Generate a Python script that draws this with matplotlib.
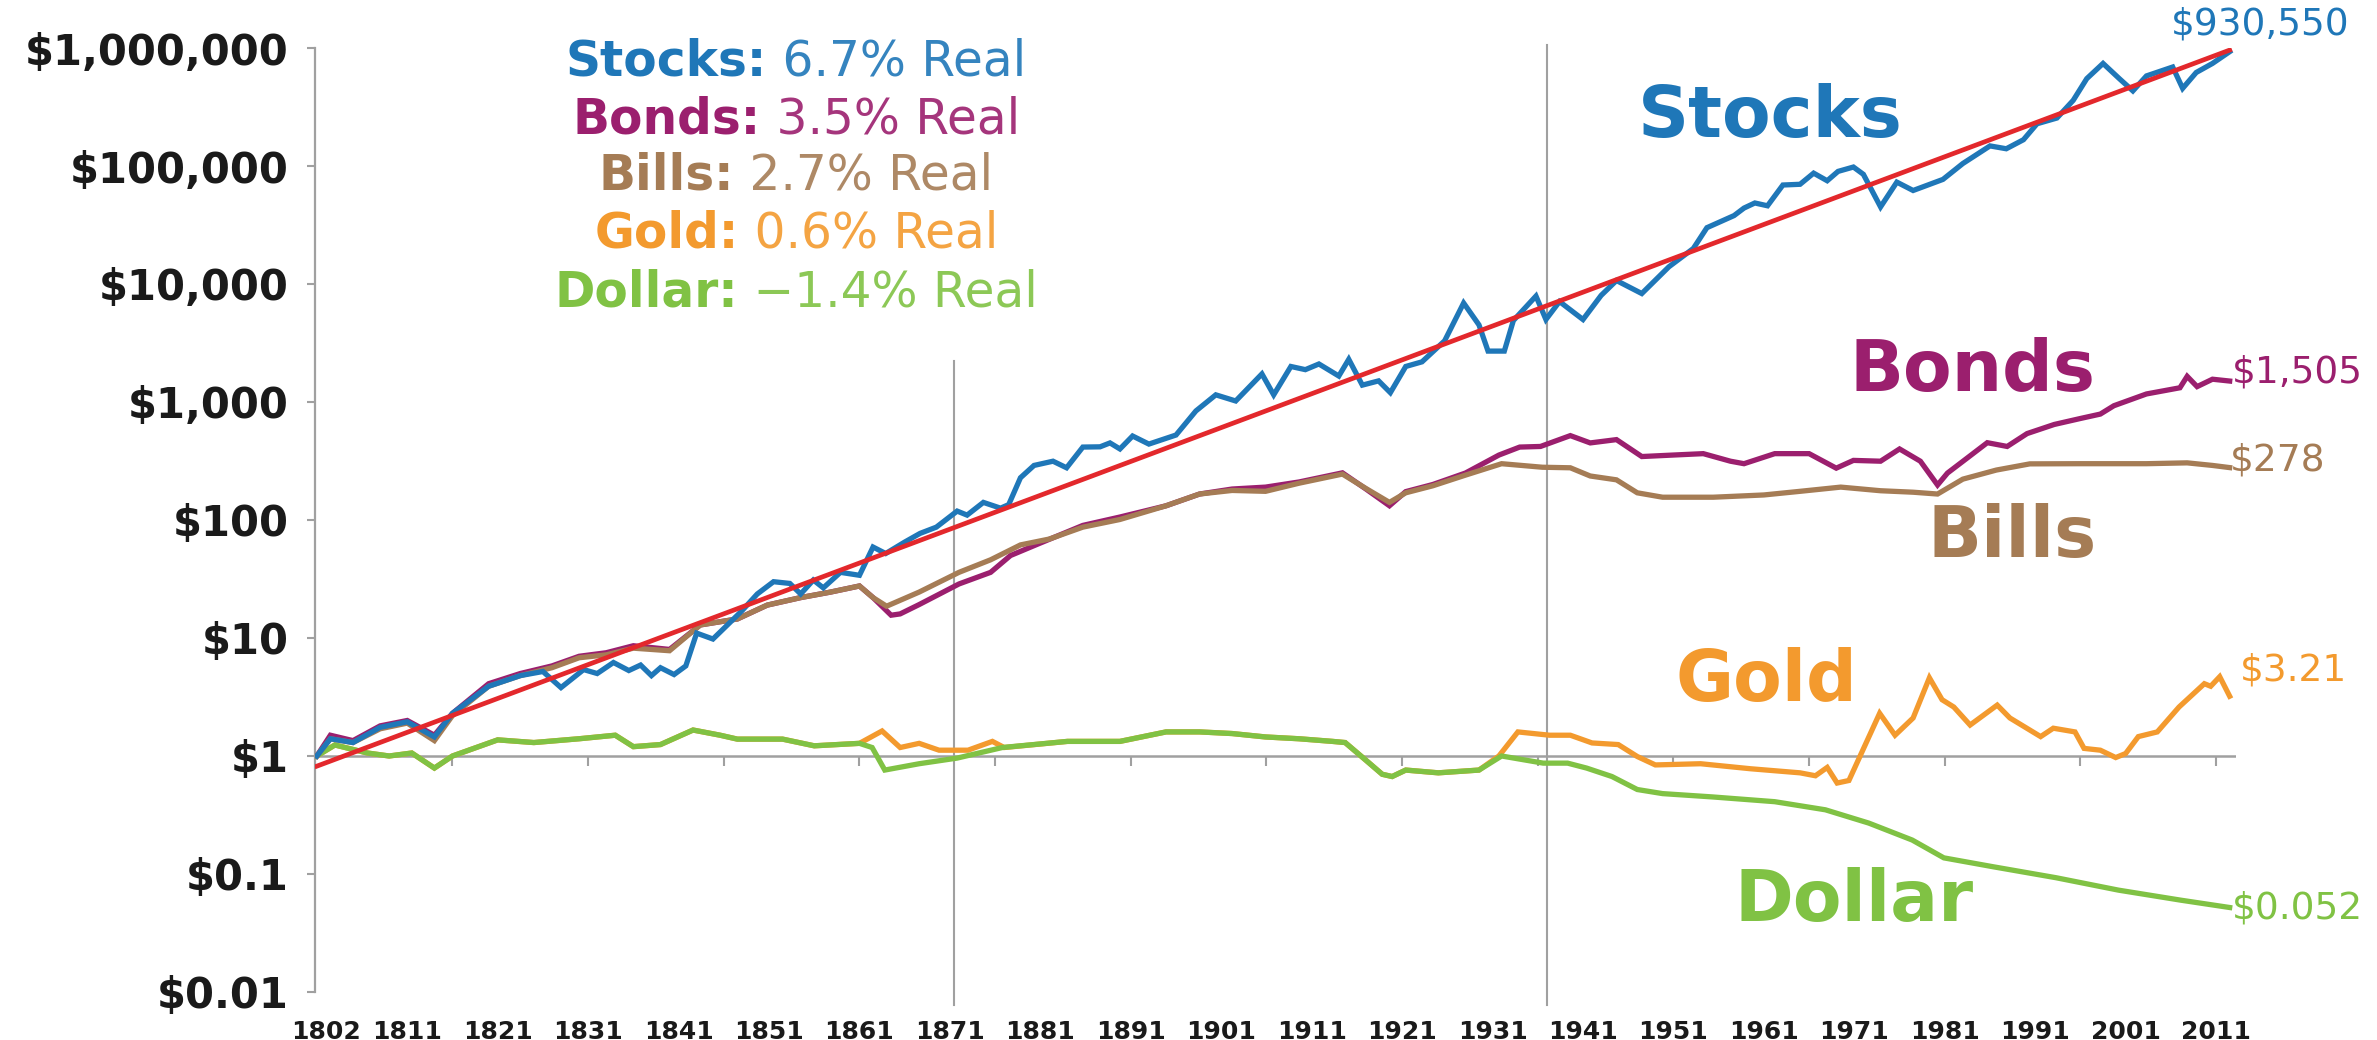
import numpy as np
import matplotlib
matplotlib.use("Agg")
import matplotlib.pyplot as plt
from matplotlib.markers import TICKDOWN

# -------------------------
# Data (real total return of $1 invested in 1801)
# -------------------------
stock_years = [1801, 1802.5, 1805, 1808, 1811, 1814, 1816, 1820, 1823.5, 1826, 1828, 1830.5, 1832,
               1833.8, 1835.5, 1836.8, 1838, 1839, 1840.5, 1841.8, 1843, 1844.8, 1846.4, 1848, 1849.7,
               1851.5, 1853.3, 1854.5, 1855.9, 1857, 1858.9, 1861, 1862.5, 1863.9, 1866, 1867.7, 1869.5,
               1871.8, 1872.9, 1874.7, 1876.6, 1877.5, 1878.8, 1880.3, 1882.4, 1883.9, 1885.7, 1887.6,
               1888.7, 1889.8, 1891.2, 1893, 1896, 1898.2, 1900.4, 1902.6, 1905.5, 1906.8, 1908.7,
               1910.3, 1911.8, 1914, 1915.1, 1916.6, 1918.4, 1919.7, 1921.4, 1923.2, 1925.7, 1927.8,
               1929.5, 1930.5, 1932.3, 1933.3, 1935.8, 1936.9, 1938.4, 1941, 1943, 1944.7, 1947.5,
               1950.5, 1953.2, 1954.7, 1957.7, 1958.8, 1960, 1961.4, 1963.1, 1965, 1966.5, 1968,
               1969.2, 1970.9, 1972, 1973.9, 1975.7, 1977.5, 1980.8, 1983, 1986, 1987.8, 1989.7,
               1991.2, 1993.4, 1995.2, 1996.7, 1998.5, 2000.3, 2001.8, 2003.3, 2006.2, 2007.3,
               2008.8, 2010.6, 2012.5]
stock_vals = [1.0, 1.4, 1.3, 1.75, 1.95, 1.45, 2.3, 3.9, 4.8, 5.2, 3.8, 5.4, 5.0,
              6.2, 5.3, 5.9, 4.8, 5.6, 4.9, 5.8, 11, 9.8, 12.9, 17, 23.6,
              30, 29, 23.6, 31, 26.6, 36, 34, 59, 52, 65, 77, 87,
              119, 110, 141, 126, 135, 228, 290, 315, 277, 415, 417,
              450, 400, 515, 440, 525, 840, 1150, 1020, 1730, 1150, 2000,
              1880, 2100, 1660, 2300, 1390, 1510, 1200, 2000, 2190, 3300, 6900,
              4500, 2700, 2700, 4900, 7900, 5000, 7100, 5000, 8000, 10700, 8300,
              14000, 20000, 30000, 38000, 44000, 48600, 46000, 69000, 70000, 87000, 75000,
              90000, 98000, 85000, 45000, 73000, 62000, 77000, 105000, 148000, 140000, 167000,
              228000, 255000, 360000, 550000, 740000, 550000, 433000, 580000, 690000, 455000,
              620000, 740000, 930550]

bond_years = [1801, 1802.5, 1805, 1808, 1811, 1814, 1816, 1820, 1823.5, 1827, 1830, 1833, 1836,
              1840, 1843.4, 1847.5, 1850.8, 1854.5, 1857.8, 1861, 1862.5, 1864.5, 1865.5, 1867.6,
              1872, 1875.5, 1877.7, 1880.5, 1885.7, 1889.8, 1894.9, 1898.6, 1902.2, 1905.9, 1909.6,
              1914.4, 1917, 1919.6, 1921.4, 1924.4, 1928, 1931.7, 1934, 1936.3, 1939.6, 1941.8,
              1944.7, 1947.5, 1950.9, 1954.3, 1957.3, 1958.8, 1962.2, 1966, 1969, 1970.9, 1973.9,
              1976, 1978.3, 1980.2, 1981.3, 1983.5, 1985.7, 1987.9, 1990.1, 1993.1, 1996, 1998.2,
              1999.7, 2003.3, 2007, 2007.8, 2008.9, 2010.6, 2012.5]
bond_vals = [1.0, 1.5, 1.35, 1.8, 2.0, 1.5, 2.3, 4.1, 5.0, 5.8, 7.0, 7.5, 8.6,
             8.0, 12.9, 14.5, 19, 22, 24.5, 27.6, 22, 15.6, 16, 19.2,
             28.7, 36, 50, 61.5, 90, 106, 132, 166, 183, 190, 210,
             251, 183, 132, 174, 200, 250, 355, 415, 420, 519, 450,
             480, 345, 355, 365, 315, 300, 365, 365, 275, 320, 315,
             400, 315, 198, 250, 336, 452, 420, 540, 645, 725, 790,
             930, 1170, 1320, 1650, 1350, 1560, 1505]

bill_years = [1801, 1802.5, 1805, 1808, 1811, 1814, 1816, 1820, 1823.5, 1827, 1830, 1833, 1836,
              1840, 1843.4, 1847.5, 1850.8, 1854.5, 1857.8, 1861, 1862.5, 1864, 1867.6, 1872,
              1875.5, 1878.8, 1882, 1885.7, 1889.8, 1894.9, 1898.6, 1902.2, 1905.9, 1909.6, 1914.4,
              1917, 1919.6, 1921.4, 1924.4, 1928, 1932, 1936.5, 1939.6, 1941.8, 1944.7, 1947,
              1949.8, 1955.4, 1961, 1965, 1969.5, 1973.9, 1977.5, 1980.2, 1983, 1986.7, 1990.4,
              1996, 2003.3, 2007.8, 2010.6, 2012.5]
bill_vals = [1.0, 1.4, 1.3, 1.7, 1.9, 1.35, 2.2, 3.9, 4.8, 5.6, 6.8, 7.2, 8.2,
             7.8, 12.9, 14.5, 19, 22, 24.5, 27.6, 22, 18.6, 24.5, 36,
             46, 61.5, 69, 87, 101, 132, 166, 178, 175, 205, 245,
             185, 141, 170, 195, 240, 300, 280, 277, 236, 219, 170,
             156, 156, 163, 175, 190, 177, 172, 166, 222, 265, 299,
             300, 300, 305, 290, 278]

gold_years = [1801, 1803, 1806.6, 1809, 1811.5, 1814, 1816, 1821, 1825, 1830, 1834, 1836, 1839,
              1842.6, 1845.6, 1847.5, 1852.5, 1856, 1861, 1863.5, 1865.5, 1867.6, 1869.8, 1873,
              1875.7, 1877, 1884, 1889.8, 1894.9, 1898.6, 1902.2, 1905.9, 1909.6, 1913.3, 1914.7,
              1917, 1918.8, 1919.9, 1921.4, 1925, 1929.5, 1931.7, 1933.8, 1937.3, 1939.6, 1942,
              1944.9, 1947, 1949, 1954, 1959.5, 1965, 1966.7, 1968, 1969.1, 1970.4, 1973.8, 1975.5,
              1977.5, 1979.3, 1980.7, 1982, 1983.8, 1986.8, 1988.2, 1991.6, 1993, 1995.4, 1996.4,
              1998.2, 1999.9, 2001, 2002.4, 2004.5, 2006.9, 2009.7, 2010.4, 2011.4, 2012.5]
gold_vals = [1.0, 1.24, 1.06, 1.0, 1.06, 0.79, 1.0, 1.37, 1.3, 1.4, 1.5, 1.2, 1.25,
             1.66, 1.5, 1.39, 1.39, 1.22, 1.28, 1.63, 1.18, 1.28, 1.12, 1.12,
             1.33, 1.18, 1.33, 1.33, 1.6, 1.6, 1.55, 1.45, 1.4, 1.33, 1.3,
             0.92, 0.70, 0.67, 0.76, 0.72, 0.76, 1.0, 1.6, 1.5, 1.5, 1.29,
             1.25, 0.99, 0.84, 0.86, 0.78, 0.72, 0.68, 0.8, 0.59, 0.62, 2.3, 1.5,
             2.1, 4.6, 3.0, 2.6, 1.83, 2.7, 2.1, 1.46, 1.72, 1.6, 1.16,
             1.12, 0.97, 1.05, 1.46, 1.6, 2.6, 4.1, 3.9, 4.7, 3.21]

dollar_years = [1801, 1803, 1806.6, 1809, 1811.5, 1814, 1816, 1821, 1825, 1830, 1834, 1836, 1839,
                1842.6, 1845.6, 1847.5, 1852.5, 1856, 1861, 1862.4, 1863.8, 1867.6, 1871.8, 1876.8,
                1884, 1889.8, 1894.9, 1898.6, 1902.2, 1905.9, 1909.6, 1913.3, 1914.7, 1917, 1918.8,
                1919.9, 1921.4, 1925, 1929.5, 1932, 1936.6, 1939.3, 1941.4, 1944.2, 1947, 1949.8,
                1955.3, 1962.2, 1967.8, 1972.6, 1977.4, 1980.9, 1986.4, 1993.3, 2000.2, 2007.1, 2012.5]
dollar_vals = [1.0, 1.24, 1.06, 1.0, 1.06, 0.79, 1.0, 1.37, 1.3, 1.4, 1.5, 1.2, 1.25,
               1.66, 1.5, 1.39, 1.39, 1.22, 1.28, 1.18, 0.76, 0.86, 0.96, 1.18,
               1.33, 1.33, 1.6, 1.6, 1.55, 1.45, 1.4, 1.33, 1.3, 0.92, 0.70,
               0.67, 0.76, 0.72, 0.76, 1.0, 0.87, 0.87, 0.79, 0.67, 0.52, 0.48,
               0.45, 0.41, 0.35, 0.27, 0.194, 0.137, 0.115, 0.093, 0.073, 0.060, 0.052]

trend_years = [1801, 2012.5]
trend_vals = [0.82, 960000]

names = ["Stocks", "Bonds", "Bills", "Gold", "Dollar"]
rates = ["6.7%", "3.5%", "2.7%", "0.6%", "\u22121.4%"]
end_labels = ["$930,550", "$1,505", "$278", "$3.21", "$0.052"]
colors = ["#1f77b8", "#9b1f6e", "#a57c55", "#f39a2e", "#80c244"]
trend_color = "#e3282c"
grey = "#a0a0a0"

ytick_vals = [1e6, 1e5, 1e4, 1e3, 100, 10, 1, 0.1, 0.01]
ytick_labels = ["$1,000,000", "$100,000", "$10,000", "$1,000", "$100", "$10", "$1", "$0.1", "$0.01"]
xtick_years = [1802] + list(range(1811, 2012, 10))
dollar_tick_years = list(range(1816, 2012, 15))
vline_years = [1871.5, 1937]
vline_tops = [0.668, 1.003]   # axes fraction

# -------------------------
# Figure layout (pixel based)
# -------------------------
W, H = 2377, 1040
fig = plt.figure(figsize=(W / 100, H / 100), dpi=100)
ax = fig.add_axes([315 / W, 48 / H, 1921 / W, 944 / H])
ax.set_yscale("log")
ax.set_ylim(0.01, 1e6)
ax.set_xlim(1800.8, 2013.2)

for s in ["top", "right", "bottom"]:
    ax.spines[s].set_visible(False)
ax.spines["left"].set_color(grey)
ax.spines["left"].set_linewidth(1.6)

ax.set_yticks(ytick_vals)
ax.set_yticklabels(ytick_labels)
ax.yaxis.set_minor_locator(plt.NullLocator())
ax.tick_params(axis="y", length=6, width=1.5, color=grey, pad=13,
               labelsize=30, labelcolor="#1a1a1a")
for lab in ax.get_yticklabels():
    lab.set_fontweight("bold")

ax.set_xticks(xtick_years)
ax.set_xticklabels([str(y) for y in xtick_years])
ax.tick_params(axis="x", length=0, pad=20, labelsize=18, labelcolor="#1a1a1a")
for lab in ax.get_xticklabels():
    lab.set_fontweight("bold")

# reference lines
ax.axhline(1, color=grey, lw=1.8, zorder=1)
ax.plot(dollar_tick_years, [1] * len(dollar_tick_years), ls="none", marker=TICKDOWN,
        ms=7, mew=1.5, color=grey, zorder=1)
for yr, top in zip(vline_years, vline_tops):
    ax.axvline(yr, ymin=-0.014, ymax=top, color=grey, lw=1.5, clip_on=False, zorder=1)

# -------------------------
# Series (dollar drawn over gold, stocks over bonds/bills)
# -------------------------
series = [(stock_years, stock_vals), (bond_years, bond_vals), (bill_years, bill_vals),
          (gold_years, gold_vals), (dollar_years, dollar_vals)]
zorders = [6, 4, 5, 2, 3]
for (yrs, vals), c, z in zip(series, colors, zorders):
    ax.plot(yrs, vals, color=c, lw=3.8, zorder=z, solid_joinstyle="miter")
ax.plot(trend_years, trend_vals, color=trend_color, lw=3.4, zorder=7)

# big series labels (centre in figure pixels)
big_pos = [(1770, 117), (1973, 371), (2012, 537), (1766, 682), (1854, 901)]
for name, c, (px, py) in zip(names, colors, big_pos):
    fig.text(px / W, 1 - py / H, name, color=c, fontsize=51, fontweight="bold",
             ha="center", va="center")

# end value labels
end_pos = [(2171, 24), (2232, 372), (2230, 461), (2240, 671), (2232, 909)]
for lab, c, (px, py) in zip(end_labels, colors, end_pos):
    fig.text(px / W, 1 - py / H, lab, color=c, fontsize=27, ha="left", va="center")

# rate block at top left
fig.canvas.draw()
r = fig.canvas.get_renderer()
cx = 796
line_y = [58, 115, 171, 230, 288]
for name, rate, c, py in zip(names, rates, colors, line_y):
    base = 1 - (py + 18) / H
    t1 = fig.text(0, base, name + ":", color=c, fontsize=35, fontweight="bold", va="baseline")
    t2 = fig.text(0, base, " " + rate + " Real", color=c, fontsize=35, va="baseline", alpha=0.9)
    w1 = t1.get_window_extent(r).width
    w2 = t2.get_window_extent(r).width
    x0 = cx - (w1 + w2) / 2
    t1.set_x(x0 / W)
    t2.set_x((x0 + w1) / W)

fig.savefig("out.png", dpi=100, facecolor="white")
